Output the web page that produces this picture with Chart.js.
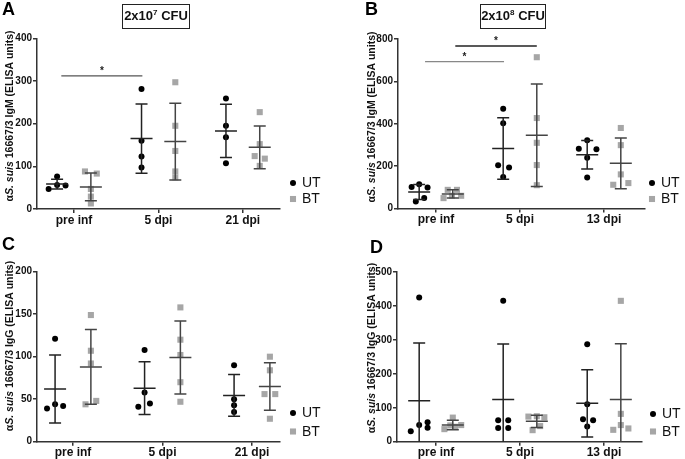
<!DOCTYPE html>
<html>
<head>
<meta charset="utf-8">
<script src="https://cdn.jsdelivr.net/npm/chart.js@4.4.1/dist/chart.umd.min.js"></script>
<style>
  body { margin: 0; background: #fff; width: 685px; height: 459px; overflow: hidden; position: relative;
         font-family: "Liberation Sans", Arial, sans-serif; }
  canvas { position: absolute; }
  .letter { position: absolute; font-weight: bold; font-size: 18px; line-height: 18px; color: #000; }
  .dose { position: absolute; box-sizing: border-box; border: 1.5px solid #222; height: 25px; white-space: nowrap;
          font-weight: bold; font-size: 13px; line-height: 22px; text-align: center; color: #111; }
  .dose sup { font-size: 8px; line-height: 0; }
</style>
</head>
<body>
<canvas id="cA" width="342" height="229" style="left:0;top:0"></canvas>
<canvas id="cB" width="343" height="229" style="left:342px;top:0"></canvas>
<canvas id="cC" width="342" height="230" style="left:0;top:229px"></canvas>
<canvas id="cD" width="343" height="230" style="left:342px;top:229px"></canvas>

<div class="letter" style="left:2px;top:0">A</div>
<div class="letter" style="left:365px;top:0">B</div>
<div class="letter" style="left:2px;top:235px">C</div>
<div class="letter" style="left:370px;top:238px">D</div>
<div class="dose" style="left:122px;top:4px;width:68px">2x10<sup>7</sup> CFU</div>
<div class="dose" style="left:480px;top:4px;width:66px">2x10<sup>8</sup> CFU</div>

<script>
// categories
const catsLow = ['pre inf', '5 dpi', '21 dpi'];
const catsHigh = ['pre inf', '5 dpi', '13 dpi'];

// y tick labels
const yTicksA = [0, 100, 200, 300, 400];
const yTicksB = [0, 200, 400, 600, 800];
const yTicksC = [0, 50, 100, 150, 200];
const yTicksD = [0, 100, 200, 300, 400, 500];

// A: IgM, 2x10^7 CFU  (per category: single animals)
const utA = [[76, 47, 56, 55], [281, 160, 123, 97], [259, 195, 168, 107]];
const utJitA = [[0, -0.1, 0, 0.1], [], []];
const btA = [[88, 83, 47, 29, 13], [297, 195, 136, 88, 74], [227, 152, 124, 118, 101]];
const btJitA = [[-0.07, 0.07, 0, 0, 0], [], [0, 0, -0.06, 0.06, 0]];
const utMeanA = [58.5, 165, 183];
const utSdA = [11.5, 81, 62.5];
const btMeanA = [51.6, 158, 144.5];
const btSdA = [32.5, 90, 50];

// B: IgM, 2x10^8 CFU
const utB = [[102, 114, 99, 33, 49], [471, 402, 204, 193, 149], [322, 282, 280, 240, 146]];
const utJitB = [[-0.09, 0, 0.1, -0.04, 0.06], [0, 0, -0.06, 0.07, 0], [0, -0.1, 0.11, 0, 0]];
const btB = [[49, 88, 88, 60, 60], [714, 427, 310, 205, 110], [380, 299, 161, 112, 120]];
const btJitB = [[-0.11, -0.06, 0.05, -0.01, 0.1], [], [0, 0, 0, -0.09, 0.09]];
const utMeanB = [78, 283, 254];
const utSdB = [35, 145, 67];
const btMeanB = [69, 346, 213];
const btSdB = [20, 242, 120];

// C: IgG, 2x10^7 CFU
const utC = [[39, 44, 42, 121], [108, 58, 41, 45], [90, 50, 43, 35]];
const utJitC = [[-0.09, 0, 0.09, 0], [0, 0, -0.07, 0.06], []];
const btC = [[149, 107, 92, 44, 48], [158, 120, 102, 70, 47], [100, 84, 56, 56, 27]];
const btJitC = [[0, 0, 0, -0.06, 0.06], [], [0, 0, -0.06, 0.06, 0]];
const utMeanC = [62, 63, 54.5];
const utSdC = [40, 31, 24.5];
const btMeanC = [88, 99, 65];
const btSdC = [44, 43, 28];

// D: IgG, 2x10^8 CFU
const utD = [[425, 31, 49, 57, 41], [415, 63, 63, 40, 40], [287, 110, 66, 63, 45]];
const utJitD = [[0, -0.1, 0, 0.1, 0.1], [0, -0.06, 0.06, -0.06, 0.06], [0, 0, -0.05, 0.07, 0]];
const btD = [[71, 37, 48, 44, 49], [74, 75, 72, 46, 34], [415, 82, 49, 35, 39]];
const btJitD = [[0, -0.1, -0.03, 0.03, 0.1], [-0.1, 0, 0.09, 0.04, -0.05], [0, 0, 0, -0.09, 0.09]];
const utMeanD = [121, 124, 113];
const utSdD = [170, 164, 99];
const btMeanD = [49, 60, 124.7];
const btSdD = [14, 18, 164];

// significance lines (x in category units, y in data units)
const sigA = [{ x1: -0.15, x2: 0.81, y: 312, color: '#555' }];
const sigB = [{ x1: -0.13, x2: 0.81, y: 693, color: '#888' }, { x1: 0.23, x2: 1.2, y: 767, color: '#222' }];

const FONT = '"Liberation Sans", Arial, sans-serif';
const GROUP_OFF = 0.2;
const UT_COLOR = '#000';
const BT_COLOR = '#a6a6a6';

// mean +/- SD bars
const errBarPlugin = {
  id: 'errBars',
  afterDatasetsDraw(chart, args, o) {
    const { ctx, scales: { x, y } } = chart;
    ctx.save();
    ctx.lineWidth = 1.5;
    o.groups.forEach(g => {
      ctx.strokeStyle = g.color;
      g.mean.forEach((m, i) => {
        const cx = x.getPixelForValue(i + g.off);
        const lo = m - g.sd[i];
        const yTop = y.getPixelForValue(m + g.sd[i]);
        const yBot = y.getPixelForValue(Math.max(0, lo));
        const ym = y.getPixelForValue(m);
        ctx.beginPath();
        ctx.moveTo(cx, yTop); ctx.lineTo(cx, yBot);
        ctx.moveTo(cx - 6, yTop); ctx.lineTo(cx + 6, yTop);
        if (lo > 0) { ctx.moveTo(cx - 6, yBot); ctx.lineTo(cx + 6, yBot); }
        ctx.moveTo(cx - 11, ym); ctx.lineTo(cx + 11, ym);
        ctx.stroke();
      });
    });
    ctx.restore();
  }
};

// significance lines with asterisk
const sigPlugin = {
  id: 'sig',
  afterDraw(chart, args, o) {
    const { ctx, scales: { x, y } } = chart;
    ctx.save();
    (o.lines || []).forEach(s => {
      const x1 = x.getPixelForValue(s.x1), x2 = x.getPixelForValue(s.x2), yy = y.getPixelForValue(s.y);
      ctx.strokeStyle = s.color;
      ctx.lineWidth = 1.3;
      ctx.beginPath(); ctx.moveTo(x1, yy); ctx.lineTo(x2, yy); ctx.stroke();
      ctx.fillStyle = '#222';
      ctx.font = 'bold 10px ' + FONT;
      ctx.textAlign = 'center';
      ctx.textBaseline = 'alphabetic';
      ctx.fillText('*', (x1 + x2) / 2, yy - 2);
    });
    ctx.restore();
  }
};

// rotated y title with italic species name
const yTitlePlugin = {
  id: 'ytitle',
  afterDraw(chart, args, o) {
    const ctx = chart.ctx;
    const parts = [['α', ''], ['S. suis', 'italic '], [' 16667/3 ' + o.iso + ' (ELISA units)', '']];
    ctx.save();
    ctx.translate(o.x, o.y);
    ctx.rotate(-Math.PI / 2);
    ctx.fillStyle = '#111';
    ctx.textBaseline = 'middle';
    ctx.textAlign = 'left';
    let total = 0;
    parts.forEach(p => { ctx.font = p[1] + 'bold 10.5px ' + FONT; total += ctx.measureText(p[0]).width; });
    let cx = -total / 2;
    parts.forEach(p => {
      ctx.font = p[1] + 'bold 10.5px ' + FONT;
      ctx.fillText(p[0], cx, 0);
      cx += ctx.measureText(p[0]).width;
    });
    ctx.restore();
  }
};

// legend at the lower right
const keyPlugin = {
  id: 'key',
  afterDraw(chart, args, o) {
    const ctx = chart.ctx;
    const items = [
      { text: 'UT', color: UT_COLOR, style: 'circle', r: 3, y: o.y1 },
      { text: 'BT', color: BT_COLOR, style: 'rect', r: 4.3, y: o.y2 }
    ];
    ctx.save();
    items.forEach(it => {
      ctx.fillStyle = it.color;
      Chart.helpers.drawPoint(ctx, { pointStyle: it.style, radius: it.r, rotation: 0, borderWidth: 0 }, o.x, it.y);
      ctx.fillStyle = '#111';
      ctx.font = '14px ' + FONT;
      ctx.textBaseline = 'middle';
      ctx.textAlign = 'left';
      ctx.fillText(it.text, o.x + 9, it.y + 0.5);
    });
    ctx.restore();
  }
};

function toPoints(vals, jit, off) {
  return vals.flatMap((arr, i) => arr.map((v, k) => ({ x: i + off + ((jit[i] || [])[k] || 0), y: v })));
}

function makePanel(id, p) {
  const cv = document.getElementById(id);
  const W = cv.width, H = cv.height;
  const yW = 30, xH = 20;
  const axisLine = { display: true, drawOnChartArea: false, drawTicks: true, tickLength: 4, color: '#333', lineWidth: 1.5 };
  new Chart(cv, {
    type: 'scatter',
    data: {
      datasets: [
        { label: 'UT', data: toPoints(p.ut, p.utJit, -GROUP_OFF), pointStyle: 'circle', pointRadius: 3,
          backgroundColor: UT_COLOR, borderWidth: 0, clip: false },
        { label: 'BT', data: toPoints(p.bt, p.btJit, GROUP_OFF), pointStyle: 'rect', pointRadius: 4.3,
          backgroundColor: BT_COLOR, borderWidth: 0, clip: false }
      ]
    },
    options: {
      responsive: false,
      animation: false,
      layout: { padding: { left: p.area.l - yW, top: p.area.t, right: W - p.area.r, bottom: H - p.area.b - xH } },
      plugins: {
        legend: { display: false },
        tooltip: { enabled: false },
        errBars: { groups: [
          { mean: p.utMean, sd: p.utSd, off: -GROUP_OFF, color: '#222' },
          { mean: p.btMean, sd: p.btSd, off: GROUP_OFF, color: '#444' }
        ] },
        sig: { lines: p.sig },
        ytitle: { iso: p.iso, x: p.title.x, y: p.title.y },
        key: p.key
      },
      scales: {
        x: {
          type: 'linear', min: p.xMin, max: p.xMax,
          afterBuildTicks: s => { s.ticks = p.cats.map((c, i) => ({ value: i })); },
          afterFit: s => { s.height = xH; },
          ticks: { callback: v => p.cats[v], color: '#111', font: { family: FONT, size: 12, weight: 'bold' },
                   padding: 0, autoSkip: false, maxRotation: 0 },
          grid: axisLine,
          border: { display: true, color: '#333', width: 1.5 }
        },
        y: {
          min: 0, max: p.yTicks[p.yTicks.length - 1],
          afterBuildTicks: s => { s.ticks = p.yTicks.map(v => ({ value: v })); },
          afterFit: s => { s.width = yW; },
          ticks: { color: '#111', font: { family: FONT, size: 10, weight: 'bold' }, padding: 1 },
          grid: axisLine,
          border: { display: true, color: '#333', width: 1.5 }
        }
      }
    },
    plugins: [errBarPlugin, sigPlugin, yTitlePlugin, keyPlugin]
  });
}

makePanel('cA', {
  cats: catsLow, yTicks: yTicksA, iso: 'IgM',
  ut: utA, utJit: utJitA, bt: btA, btJit: btJitA,
  utMean: utMeanA, utSd: utSdA, btMean: btMeanA, btSd: btSdA, sig: sigA,
  area: { l: 37, r: 280, t: 38.3, b: 209 }, xMin: -0.438, xMax: 2.44,
  title: { x: 10, y: 116 }, key: { x: 293, y1: 183, y2: 199 }
});
makePanel('cB', {
  cats: catsHigh, yTicks: yTicksB, iso: 'IgM',
  ut: utB, utJit: utJitB, bt: btB, btJit: btJitB,
  utMean: utMeanB, utSd: utSdB, btMean: btMeanB, btSd: btSdB, sig: sigB,
  area: { l: 56, r: 303, t: 39, b: 208.5 }, xMin: -0.452, xMax: 2.488,
  title: { x: 30, y: 117 }, key: { x: 310, y1: 183, y2: 199 }
});
makePanel('cC', {
  cats: catsLow, yTicks: yTicksC, iso: 'IgG',
  ut: utC, utJit: utJitC, bt: btC, btJit: btJitC,
  utMean: utMeanC, utSd: utSdC, btMean: btMeanC, btSd: btSdC, sig: [],
  area: { l: 37, r: 280, t: 42.7, b: 212.7 }, xMin: -0.402, xMax: 2.313,
  title: { x: 10, y: 117 }, key: { x: 293, y1: 184, y2: 202.5 }
});
makePanel('cD', {
  cats: catsHigh, yTicks: yTicksD, iso: 'IgG',
  ut: utD, utJit: utJitD, bt: btD, btJit: btJitD,
  utMean: utMeanD, utSd: utSdD, btMean: btMeanD, btSd: btSdD, sig: [],
  area: { l: 55, r: 300, t: 43, b: 212.7 }, xMin: -0.464, xMax: 2.452,
  title: { x: 30, y: 119 }, key: { x: 311, y1: 185, y2: 202.5 }
});
</script>
</body>
</html>
